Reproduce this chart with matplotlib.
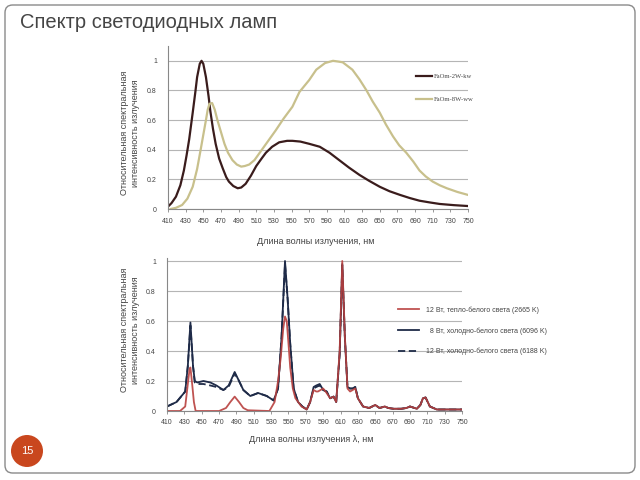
import matplotlib
matplotlib.use("Agg")
import matplotlib.pyplot as plt
from matplotlib.patches import FancyBboxPatch, Ellipse

plt.rcParams['font.family'] = ['Liberation Sans', 'DejaVu Sans']

# --- upper chart: two LED lamps ---
dark_wl = [410, 414, 419, 424, 428, 431, 434, 438, 441, 443, 446, 448, 450, 453, 456, 458, 461, 464, 468, 472,
           476, 479, 484, 489, 493, 498, 504, 510, 516, 521, 528, 536, 545, 551, 560, 570, 582, 593, 604, 615,
           627, 638, 650, 661, 673, 684, 695, 707, 718, 734, 750]
dark_v = [0.016, 0.04, 0.083, 0.16, 0.26, 0.36, 0.47, 0.65, 0.79, 0.89, 0.98, 1.0, 0.98, 0.89, 0.76, 0.66, 0.54, 0.44, 0.34, 0.275,
          0.215, 0.185, 0.155, 0.14, 0.145, 0.17, 0.225, 0.29, 0.34, 0.38, 0.42, 0.45, 0.46, 0.46, 0.455, 0.44, 0.42, 0.38, 0.33, 0.28,
          0.23, 0.19, 0.15, 0.12, 0.095, 0.074, 0.056, 0.044, 0.034, 0.026, 0.02]

olive_wl = [413, 419, 426, 432, 438, 443, 447, 450, 453, 455, 457, 460, 463, 466, 470, 474, 478, 483, 488, 493, 497, 502,
            508, 514, 523, 532, 541, 551, 559, 570, 578, 588, 597, 603, 608, 619, 627, 635, 642, 650, 657, 665, 672,
            680, 688, 695, 702, 710, 718, 726, 738, 750]
olive_v = [0.0, 0.008, 0.027, 0.07, 0.15, 0.27, 0.40, 0.50, 0.60, 0.67, 0.71, 0.715, 0.67, 0.60, 0.52, 0.44, 0.38, 0.33, 0.30, 0.286, 0.29, 0.30,
           0.33, 0.38, 0.455, 0.53, 0.61, 0.69, 0.79, 0.87, 0.94, 0.985, 1.0, 0.995, 0.99, 0.94, 0.875, 0.80, 0.725, 0.65, 0.57, 0.49, 0.43,
           0.38, 0.32, 0.26, 0.22, 0.185, 0.16, 0.14, 0.115, 0.095]

upper_labels = ['FaOm-2W-kw', 'FaOm-8W-ww']

# --- lower chart: three lamps ---
navy_wl = [410, 421, 431, 434, 437, 440, 442, 445, 452, 460, 467, 475, 481, 488, 493, 498, 506, 515, 525, 533,
           538, 542, 546, 549, 552, 556, 561, 566, 571, 575, 579, 582, 586, 590, 594, 598, 602, 605, 609, 612,
           615, 618, 621, 624, 627, 630, 636, 643, 650, 655, 661, 665, 671, 680, 686, 690, 698, 702, 705, 708,
           713, 721, 735, 750]
navy_v = [0.03, 0.06, 0.13, 0.3, 0.59, 0.3, 0.2, 0.19, 0.2, 0.19, 0.17, 0.14, 0.17, 0.26, 0.2, 0.14, 0.10, 0.12, 0.10, 0.07,
          0.15, 0.49, 1.0, 0.75, 0.45, 0.15, 0.06, 0.03, 0.01, 0.06, 0.16, 0.17, 0.18, 0.14, 0.13, 0.085, 0.096, 0.06, 0.38, 0.98,
          0.49, 0.16, 0.15, 0.15, 0.16, 0.085, 0.03, 0.02, 0.04, 0.02, 0.03, 0.02, 0.015, 0.015, 0.02, 0.03, 0.015, 0.04, 0.085, 0.09,
          0.03, 0.01, 0.01, 0.01]
dash_v = [0.03, 0.06, 0.13, 0.3, 0.57, 0.3, 0.19, 0.18, 0.18, 0.17, 0.16, 0.14, 0.16, 0.25, 0.2, 0.14, 0.10, 0.12, 0.10, 0.07,
          0.15, 0.49, 0.98, 0.75, 0.45, 0.15, 0.06, 0.03, 0.01, 0.06, 0.15, 0.16, 0.17, 0.14, 0.13, 0.085, 0.096, 0.06, 0.38, 0.97,
          0.49, 0.16, 0.15, 0.15, 0.16, 0.085, 0.03, 0.02, 0.04, 0.02, 0.03, 0.02, 0.015, 0.015, 0.02, 0.03, 0.015, 0.04, 0.085, 0.09,
          0.03, 0.01, 0.01, 0.01]

red_wl = [410, 425, 431, 434, 436, 437, 439, 441, 443, 470, 478, 483, 488, 493, 498, 503, 528, 534, 538, 541,
          544, 546, 548, 550, 552, 555, 558, 565, 571, 575, 579, 582, 584, 587, 590, 594, 598, 602, 605, 609,
          612, 615, 618, 621, 624, 627, 630, 636, 643, 650, 655, 661, 665, 671, 680, 686, 690, 698, 702, 705,
          708, 713, 721, 735, 750]
red_v = [0, 0, 0.03, 0.18, 0.28, 0.29, 0.18, 0.06, 0, 0, 0.02, 0.06, 0.096, 0.06, 0.02, 0.005, 0, 0.06, 0.2, 0.35,
         0.55, 0.63, 0.6, 0.45, 0.29, 0.15, 0.085, 0.03, 0.01, 0.06, 0.14, 0.13, 0.13, 0.14, 0.15, 0.12, 0.085, 0.096, 0.06, 0.4,
         1.0, 0.5, 0.15, 0.13, 0.14, 0.15, 0.085, 0.03, 0.02, 0.04, 0.02, 0.03, 0.02, 0.015, 0.015, 0.02, 0.03, 0.015, 0.04, 0.085,
         0.09, 0.03, 0.01, 0.01, 0.01]

lower_labels = ['12 Вт, тепло-белого света (2665 K)',
                '  8 Вт, холодно-белого света (6096 K)',
                '12 Вт, холодно-белого света (6188 K)']

xticks = list(range(410, 751, 20))
yticks = [0, 0.2, 0.4, 0.6, 0.8, 1]
ytick_labels = ['0', '0.2', '0.4', '0.6', '0.8', '1']

ylabel_text = 'Относительная спектральная\nинтенсивность излучения'


def style_axes(ax, ytop, ypad, xpad):
    ax.set_xlim(410, 750)
    ax.set_ylim(0, ytop)
    ax.set_xticks(xticks)
    ax.set_xticklabels([str(t) for t in xticks])
    ax.set_yticks(yticks)
    ax.set_yticklabels(ytick_labels)
    for s in ['top', 'right']:
        ax.spines[s].set_visible(False)
    ax.spines['left'].set_color('#888888')
    ax.spines['bottom'].set_color('#888888')
    ax.spines['left'].set_linewidth(0.8)
    ax.spines['bottom'].set_linewidth(0.8)
    ax.grid(axis='y', color='#b5b5b5', linewidth=0.8)
    ax.set_axisbelow(True)
    ax.tick_params(axis='y', length=0, pad=ypad, labelsize=5, labelcolor='#444444')
    ax.tick_params(axis='x', length=2.5, width=0.6, color='#888888', pad=xpad, labelsize=5, labelcolor='#444444')


fig = plt.figure(figsize=(6.4, 4.8), dpi=100)

# slide frame
frame = FancyBboxPatch((5 / 640, 7 / 480), 630 / 640, 468 / 480,
                       boxstyle="round,pad=0,rounding_size=0.012", transform=fig.transFigure,
                       facecolor='none', edgecolor='#8a8a8a', linewidth=1.0, mutation_aspect=640 / 480)
fig.patches.append(frame)

fig.text(20 / 640, 1 - 23 / 480, 'Спектр светодиодных ламп', fontsize=14.5, color='#454545',
         ha='left', va='center')

# upper chart
ax1 = fig.add_axes([168 / 640, 1 - 209 / 480, 300 / 640, 163 / 480])
l1, = ax1.plot(dark_wl, dark_v, color='#3a1c1c', linewidth=1.6)
l2, = ax1.plot(olive_wl, olive_v, color='#c8c08c', linewidth=1.6)
style_axes(ax1, 1.1, 8, 4)
fig.legend([l1, l2], upper_labels, loc='upper left', bbox_to_anchor=(413 / 640, 1 - 70 / 480),
           frameon=False, borderpad=0, handlelength=2.4, handletextpad=0.25,
           labelspacing=2.6, prop={'family': 'Liberation Serif', 'size': 4.8}, labelcolor='#444444')
fig.text(130 / 640, 1 - 133 / 480, ylabel_text, rotation=90, fontsize=6.5, color='#444444',
         ha='center', va='center', multialignment='center')
fig.text(316 / 640, 1 - 242 / 480, 'Длина волны излучения, нм', fontsize=6.5, color='#444444',
         ha='center', va='center')

# lower chart
ax2 = fig.add_axes([167 / 640, 1 - 411 / 480, 295 / 640, 153 / 480])
ld, = ax2.plot(navy_wl, dash_v, color='#1f2b48', linewidth=1.3, linestyle=(0, (4, 2)))
ln, = ax2.plot(navy_wl, navy_v, color='#1f2b48', linewidth=1.3)
lr, = ax2.plot(red_wl, red_v, color='#b8403e', linewidth=1.3, alpha=0.9)
style_axes(ax2, 1.02, 8, 3)
fig.legend([lr, ln, ld], lower_labels, loc='upper left', bbox_to_anchor=(395 / 640, 1 - 303 / 480),
           frameon=False, borderpad=0, handlelength=3.0, handletextpad=1.0,
           labelspacing=1.9, prop={'size': 5.0}, labelcolor='#444444')
fig.text(130 / 640, 1 - 330 / 480, ylabel_text, rotation=90, fontsize=6.5, color='#444444',
         ha='center', va='center', multialignment='center')
fig.text(311 / 640, 1 - 440 / 480, 'Длина волны излучения λ, нм', fontsize=6.5, color='#444444',
         ha='center', va='center')

# slide number badge
badge = Ellipse((27 / 640, 1 - 451 / 480), 32 / 640, 32 / 480, transform=fig.transFigure,
                facecolor='#c9471e', edgecolor='none')
fig.patches.append(badge)
fig.text(27 / 640, 1 - 451 / 480, '15', fontsize=8, color='white', ha='center', va='center')

fig.savefig('out.png', dpi=100)
